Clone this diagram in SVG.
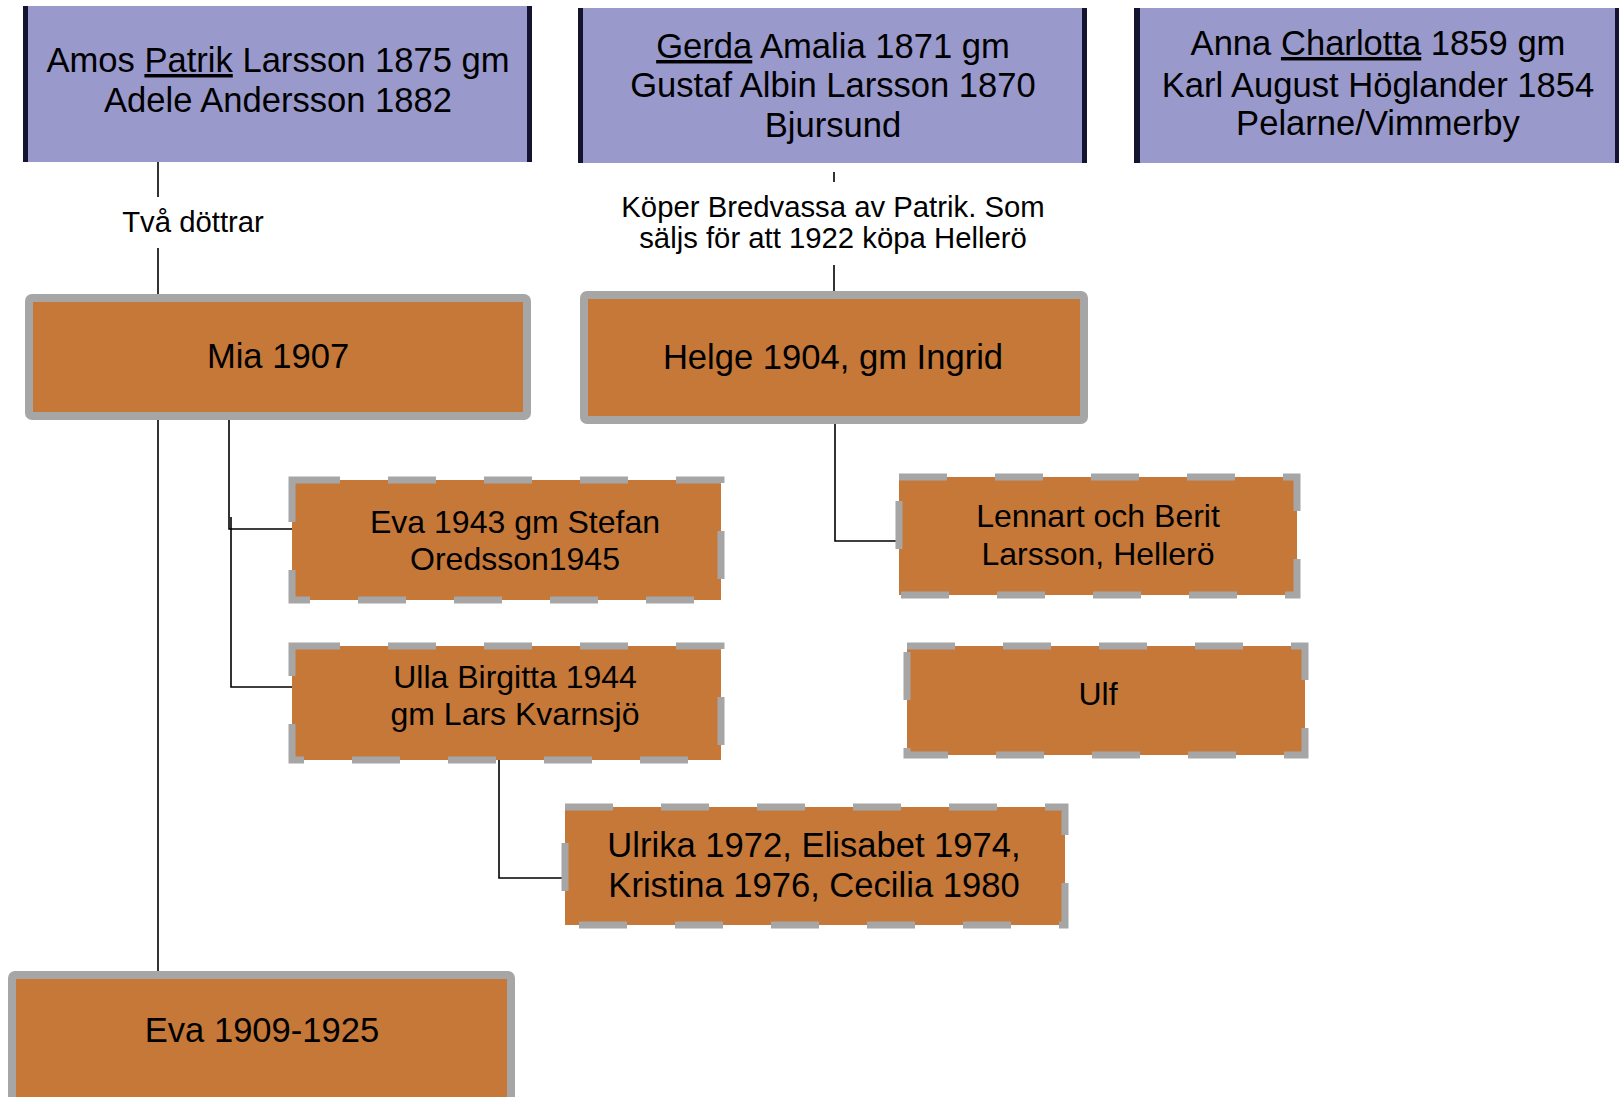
<svg xmlns="http://www.w3.org/2000/svg" width="1619" height="1097" viewBox="0 0 1619 1097">
<style>
text{font-family:"Liberation Sans",Arial,sans-serif;fill:#000;text-anchor:middle}
.t34{font-size:34.6px}
.t32{font-size:32px}
.t29{font-size:29.3px}
.purple{fill:#9999CC}
.dk{fill:#141430}
.solid{fill:#C57838;stroke:#A6A6A6;stroke-width:8}
.dash{fill:#C57838;stroke:#A6A6A6;stroke-width:7;stroke-dasharray:48 48}
.ln{stroke:#000;stroke-width:1.6;fill:none}
.u{text-decoration:underline}
</style>
<rect width="1619" height="1097" fill="#fff"/>
<g id="connectors">
<path class="ln" d="M158 162V197M158 248V294"/>
<path class="ln" d="M158 420V972"/>
<path class="ln" d="M834 172V182M834 265V292"/>
<path class="ln" d="M229 420V529H292"/>
<path class="ln" d="M231 517V687H292"/>
<path class="ln" d="M835 424V541H899"/>
<path class="ln" d="M499 760V878H565"/>
</g>
<g id="label-tva">
<text class="t29" x="193" y="232">Två döttrar</text>
</g>
<g id="label-koper">
<text class="t29" x="833" y="217">Köper Bredvassa av Patrik. Som</text>
<text class="t29" x="833" y="248">säljs för att 1922 köpa Hellerö</text>
</g>
<g id="n-amos">
<rect class="purple" x="23" y="6" width="509" height="156"/>
<rect class="dk" x="23" y="6" width="5" height="156"/>
<rect class="dk" x="527" y="6" width="5" height="156"/>
<text class="t34" x="278" y="72">Amos <tspan class="u">Patrik</tspan> Larsson 1875 gm</text>
<text class="t34" x="278" y="112">Adele Andersson 1882</text>
</g>
<g id="n-gerda">
<rect class="purple" x="578" y="8" width="509" height="155"/>
<rect class="dk" x="578" y="8" width="5" height="155"/>
<rect class="dk" x="1082" y="8" width="5" height="155"/>
<text class="t34" x="833" y="58"><tspan class="u">Gerda</tspan> Amalia 1871 gm</text>
<text class="t34" x="833" y="97">Gustaf Albin Larsson 1870</text>
<text class="t34" x="833" y="137">Bjursund</text>
</g>
<g id="n-anna">
<rect class="purple" x="1134" y="8" width="485" height="155"/>
<rect class="dk" x="1134" y="8" width="6" height="155"/>
<rect class="dk" x="1615" y="8" width="4" height="155"/>
<text class="t34" x="1378" y="55">Anna <tspan class="u">Charlotta</tspan> 1859 gm</text>
<text class="t34" x="1378" y="97">Karl August Höglander 1854</text>
<text class="t34" x="1378" y="135">Pelarne/Vimmerby</text>
</g>
<g id="n-mia">
<rect class="solid" x="29" y="298" width="498" height="118" rx="3"/>
<text class="t34" x="278" y="368">Mia 1907</text>
</g>
<g id="n-helge">
<rect class="solid" x="584" y="295" width="500" height="125" rx="3"/>
<text class="t34" x="833" y="369">Helge 1904, gm Ingrid</text>
</g>
<g id="n-eva1943">
<rect class="dash" x="292" y="480" width="429" height="120"/>
<text class="t32" x="515" y="533">Eva 1943 gm Stefan</text>
<text class="t32" x="515" y="570">Oredsson1945</text>
</g>
<g id="n-ulla">
<rect class="dash" x="292" y="646" width="429" height="114"/>
<text class="t32" x="515" y="688">Ulla Birgitta 1944</text>
<text class="t32" x="515" y="725">gm Lars Kvarnsjö</text>
</g>
<g id="n-lennart">
<rect class="dash" x="899" y="477" width="398" height="118"/>
<text class="t32" x="1098" y="527">Lennart och Berit</text>
<text class="t32" x="1098" y="565">Larsson, Hellerö</text>
</g>
<g id="n-ulf">
<rect class="dash" x="907" y="646" width="398" height="109"/>
<text class="t32" x="1098" y="705">Ulf</text>
</g>
<g id="n-ulrika">
<rect class="dash" x="565" y="807" width="500" height="118"/>
<text class="t34" x="814" y="857">Ulrika 1972, Elisabet 1974,</text>
<text class="t34" x="814" y="897">Kristina 1976, Cecilia 1980</text>
</g>
<g id="n-eva1909">
<rect class="solid" x="12" y="975" width="499" height="126" rx="3"/>
<text class="t34" x="262" y="1042">Eva 1909-1925</text>
</g>
</svg>
